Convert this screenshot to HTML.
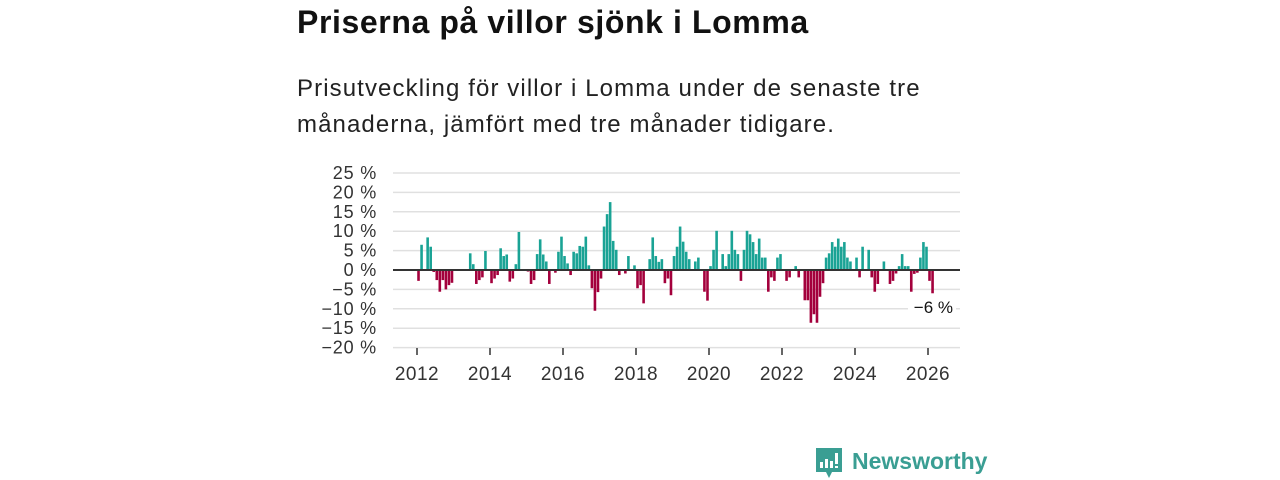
<!DOCTYPE html>
<html><head><meta charset="utf-8"><style>
body{margin:0;width:1280px;height:480px;background:#fff;font-family:"Liberation Sans","DejaVu Sans",sans-serif;overflow:hidden;position:relative}
h1{position:absolute;left:297px;top:4px;margin:0;font-size:32px;font-weight:bold;color:#111;letter-spacing:0.6px}
p.sub{position:absolute;left:297px;top:71px;margin:0;font-size:24px;line-height:36px;color:#222;width:760px;letter-spacing:1.1px}
svg{position:absolute;left:0;top:0}
</style></head><body>
<h1>Priserna på villor sjönk i Lomma</h1>
<p class="sub">Prisutveckling för villor i Lomma under de senaste tre<br>månaderna, jämfört med tre månader tidigare.</p>
<svg id="chart" width="1280" height="480"></svg>
<script>
const startYear = 2012;
const yTicks = [25,20,15,10,5,0,-5,-10,-15,-20];
const xTicks = [2012,2014,2016,2018,2020,2022,2024,2026];
const monthIdx = [0,1,3,4,5,6,7,8,9,10,11,17,18,19,20,21,22,24,25,26,27,28,29,30,31,32,33,36,37,38,39,40,41,42,43,45,46,47,48,49,50,51,52,53,54,55,56,57,58,59,60,61,62,63,64,65,66,68,69,71,72,73,74,76,77,78,79,80,81,82,83,84,85,86,87,88,89,91,92,94,95,96,97,98,100,101,102,103,104,105,106,107,108,109,110,111,112,113,114,115,116,117,118,119,121,122,124,125,127,128,129,130,131,132,133,134,135,136,137,138,139,140,141,142,144,145,146,148,149,150,151,153,155,156,157,158,159,160,161,162,163,164,165,166,167,168,169];
const values = [-2.8,6.5,8.4,6,-0.5,-2.6,-5.6,-2.6,-5,-3.9,-3.3,4.3,1.5,-3.6,-2.6,-1.9,4.9,-3.4,-2.2,-1.3,5.6,3.6,4,-3,-2.2,1.5,9.8,-0.4,-3.6,-2.6,4.1,7.9,4,2.2,-3.6,-0.7,4.7,8.6,3.6,1.7,-1.3,4.7,4.3,6.2,6,8.6,1.2,-4.7,-10.5,-5.7,-2.2,11.2,14.4,17.5,7.5,5.2,-1.3,-0.9,3.6,1.2,-4.7,-3.9,-8.6,2.8,8.4,3.6,2.1,2.8,-3.4,-2.2,-6.5,3.6,6,11.2,7.3,4.7,2.8,2.2,3.2,-5.6,-7.9,1,5.2,10.1,4.1,1,4.1,10.1,5.2,4.1,-2.8,5.2,10.1,9.2,7.2,4.1,8.1,3.2,3.2,-5.6,-1.9,-2.8,3.2,4.1,-2.8,-1.9,1,-1.9,-7.8,-7.8,-13.6,-11.4,-13.6,-6.9,-3.4,3.2,4.3,7.2,6,8.1,6,7.2,3.2,2.2,3.2,-1.9,6,5.2,-1.9,-5.6,-3.6,2.2,-3.6,-2.8,-0.9,1,4.1,1,1,-5.6,-1,-0.7,3.2,7.2,6,-2.8,-6];
const svg=document.getElementById('chart');
const NS='http://www.w3.org/2000/svg';
function xScale(t){return 417+36.5*(t-startYear);}
function xMonth(i){return xScale(startYear+(i+0.5)/12);}
function yScale(v){return 270-v*3.88;}
function mk(tag,attrs){const e=document.createElementNS(NS,tag);for(const k in attrs)e.setAttribute(k,attrs[k]);svg.appendChild(e);return e;}
yTicks.forEach(v=>{
  const g=mk('line',{x1:393,x2:960,y1:yScale(v),y2:yScale(v),stroke:'#e0e0e0','stroke-width':1.5});
  
  
  const t=mk('text',{x:377,y:yScale(v)+6,'text-anchor':'end','font-size':18,fill:'#333','letter-spacing':0.8});
  t.textContent=(v<0?'\u2212'+(-v):v)+' %';
  
  
});
xTicks.forEach(y=>{
  const l=mk('line',{x1:xScale(y),x2:xScale(y),y1:348,y2:355,stroke:'#333','stroke-width':1.5});
  
  
  const t=mk('text',{x:xScale(y),y:380,'text-anchor':'middle','font-size':19,fill:'#333','letter-spacing':0.5});
  t.textContent=y;
  
  
});
monthIdx.forEach((m,k)=>{
  const v=values[k];const x=xMonth(m);
  const y0=yScale(0),y1=yScale(v);
  const r=mk('rect',{x:x-1.3,width:2.6,y:Math.min(y0,y1),height:Math.abs(y1-y0),fill:v>=0?'#1aa395':'#a3003c'});
  
  
});
const z=mk('line',{x1:393,x2:960,y1:270,y2:270,stroke:'#333','stroke-width':2});


const bg=mk('rect',{x:908,y:296,width:48,height:22,fill:'#fff'});


const lab=mk('text',{x:953,y:313,'text-anchor':'end','font-size':17,fill:'#111'});
lab.textContent='\u22126 %';


</script>
<svg width="1280" height="480" style="pointer-events:none">
<path d="M816 448h26v24h-10l-3 6-3-6h-10z" fill="#3a9e93"/>
<rect x="820" y="462" width="3" height="6" fill="#fff"/><rect x="825" y="459" width="3" height="9" fill="#fff"/><rect x="830" y="461" width="3" height="7" fill="#fff"/><rect x="835" y="453" width="3" height="11" fill="#fff"/><rect x="835" y="466" width="3" height="2" fill="#fff"/>
<text x="852" y="469" font-size="23" font-weight="bold" fill="#3a9e93" font-family="Liberation Sans, sans-serif">Newsworthy</text>
</svg>
</body></html>
